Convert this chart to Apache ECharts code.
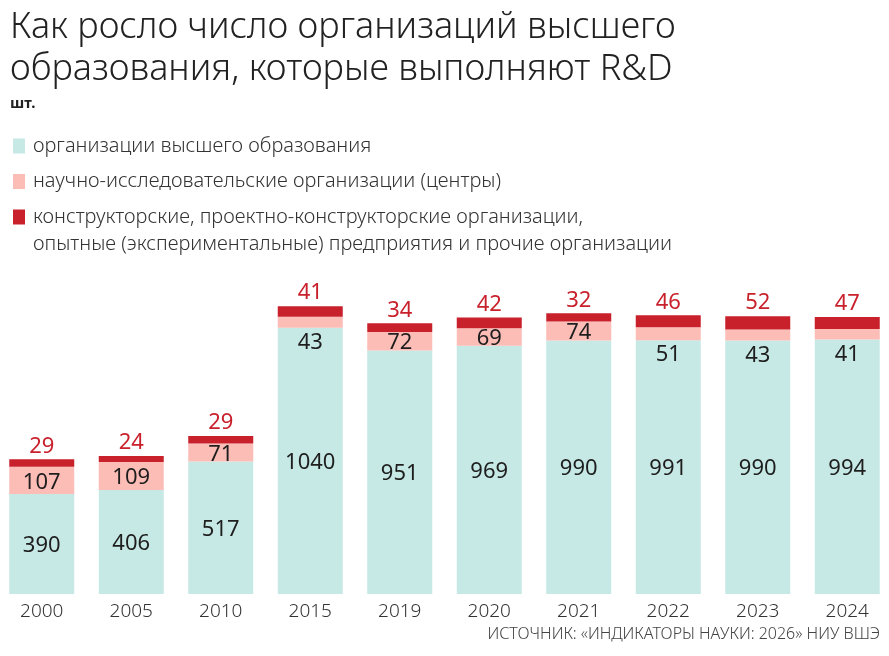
<!DOCTYPE html>
<html>
<head>
<meta charset="utf-8">
<script src="https://cdn.jsdelivr.net/npm/echarts@6/dist/echarts.min.js"></script>
<style>
  html, body { margin: 0; padding: 0; background: #fff; }
  #chart { width: 889px; height: 656px; }
</style>
</head>
<body>
<div id="chart"></div>
<script>
// годы и значения по трём группам организаций
const years = ['2000', '2005', '2010', '2015', '2019', '2020', '2021', '2022', '2023', '2024']
const higherEd = [390, 406, 517, 1040, 951, 969, 990, 991, 990, 994]
const research = [107, 109, 71, 43, 72, 69, 74, 51, 43, 41]
const design = [29, 24, 29, 41, 34, 42, 32, 46, 52, 47]
// где подпись розового сегмента не помещается — выносим ниже
const researchLabelBelow = [false, false, false, true, false, false, false, true, true, true]

const names = [
    'организации высшего образования',
    'научно-исследовательские организации (центры)',
    'конструкторские, проектно-конструкторские организации,'
]

const font = 'Noto Sans'
let chart = echarts.init(document.querySelector('#chart'))

let researchData = research.map(function (v, i) {
    return {
        value: v,
        label: researchLabelBelow[i]
            ? { position: 'bottom', distance: 4 }
            : { position: 'inside', offset: [0, 2] }
    }
})

let option = {
    backgroundColor: '#fff',
    animation: false,
    title: {
        text: 'Как росло число организаций высшего\nобразования, которые выполняют R&D',
        left: 5,
        top: 2,
        textStyle: {
            fontFamily: font,
            fontWeight: 300,
            fontSize: 36,
            lineHeight: 42,
            color: '#222'
        },
        subtext: 'шт.',
        itemGap: 5,
        subtextStyle: {
            fontFamily: font,
            fontWeight: 'bold',
            fontSize: 15,
            color: '#222'
        }
    },
    legend: {
        orient: 'vertical',
        left: 8,
        top: 131,
        itemWidth: 12,
        itemHeight: 15,
        itemGap: 15.5,
        icon: 'rect',
        selectedMode: false,
        data: names,
        textStyle: {
            fontFamily: font,
            fontWeight: 300,
            fontSize: 20,
            color: '#333',
            padding: [0, 0, 0, 3]
        }
    },
    graphic: [
        {
            type: 'text',
            left: 33,
            top: 234,
            style: {
                text: 'опытные (экспериментальные) предприятия и прочие организации',
                fontFamily: font,
                fontWeight: 300,
                fontSize: 20,
                fill: '#333'
            }
        },
        {
            type: 'text',
            right: 9,
            top: 626,
            style: {
                text: 'ИСТОЧНИК: «ИНДИКАТОРЫ НАУКИ: 2026» НИУ ВШЭ',
                fontFamily: font,
                fontWeight: 300,
                fontSize: 16,
                fill: '#444'
            }
        }
    ],
    grid: {
        left: -3,
        right: -3,
        top: 279,
        bottom: 62,
        outerBoundsMode: 'none'
    },
    xAxis: {
        type: 'category',
        data: years,
        axisLine: { show: false },
        axisTick: { show: false },
        axisLabel: {
            margin: 8,
            fontFamily: font,
            fontWeight: 300,
            fontSize: 19,
            color: '#333'
        }
    },
    yAxis: {
        type: 'value',
        min: 0,
        max: 1230,
        show: false,
        splitLine: { show: false }
    },
    series: [
        {
            name: names[0],
            type: 'bar',
            stack: 'all',
            barWidth: 65,
            data: higherEd,
            itemStyle: { color: '#c6e9e5' },
            label: {
                show: true,
                position: 'inside',
                offset: [0, 2],
                fontFamily: font,
                fontSize: 22,
                color: '#1e1e1e'
            }
        },
        {
            name: names[1],
            type: 'bar',
            stack: 'all',
            data: researchData,
            itemStyle: { color: '#fbbdb6' },
            label: {
                show: true,
                fontFamily: font,
                fontSize: 22,
                color: '#1e1e1e'
            }
        },
        {
            name: names[2],
            type: 'bar',
            stack: 'all',
            data: design,
            itemStyle: { color: '#c9212c' },
            label: {
                show: true,
                position: 'top',
                distance: 2,
                fontFamily: font,
                fontSize: 22,
                color: '#c9212c'
            }
        }
    ]
}

chart.setOption(option)
window.onresize = function () {
    chart.resize()
}
</script>
</body>
</html>
